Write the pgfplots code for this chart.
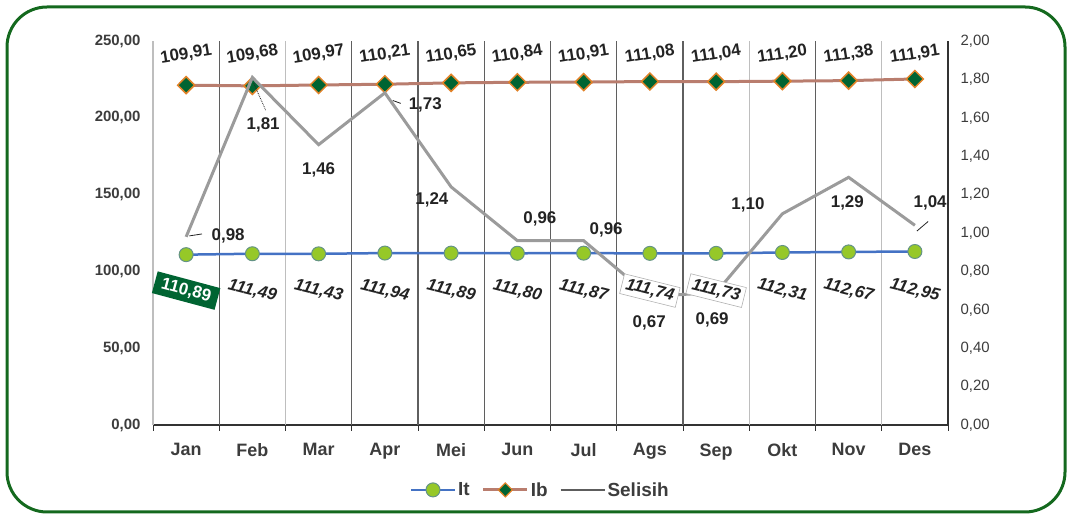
\documentclass[border=0pt]{standalone}
\usepackage{pgfplots}
\pgfplotsset{compat=1.18}
\usepackage{fontspec}
\setmainfont{Liberation Sans}
\definecolor{frame}{RGB}{20,105,30}
\definecolor{itline}{RGB}{68,114,196}
\definecolor{itmark}{RGB}{150,200,40}
\definecolor{ibline}{RGB}{185,125,110}
\definecolor{ibmark}{RGB}{0,100,50}
\definecolor{iborange}{RGB}{225,130,40}
\definecolor{sel}{RGB}{155,155,155}
\definecolor{txt}{RGB}{35,35,35}
\definecolor{labgray}{RGB}{60,60,60}
\definecolor{axisdark}{RGB}{50,50,50}
\definecolor{griddark}{RGB}{95,95,95}
\definecolor{gridlight}{RGB}{190,190,190}
\definecolor{boxgreen}{RGB}{0,100,50}
\pgfplotsset{
  base/.style={scale only axis, width=795bp, height=384bp, at={(153bp,90bp)}, anchor=south west,
    xmin=-0.5, xmax=11.5, clip=false},
  numfmt/.style={/pgf/number format/fixed, /pgf/number format/fixed zerofill,
    /pgf/number format/precision=2, /pgf/number format/use comma,
    /pgf/number format/1000 sep={}, /pgf/number format/assume math mode=true},
}
\tikzset{
  ibl/.style={rotate=9, font=\fontsize{17}{19}\selectfont\bfseries, text=txt, inner sep=0pt},
  itl/.style={rotate=-14, font=\fontsize{17}{19}\selectfont\bfseries\itshape, text=txt, inner sep=0pt},
  sl/.style={font=\fontsize{17}{19}\selectfont\bfseries, text=txt, inner sep=0pt},
}
\begin{document}
\begin{tikzpicture}[x=1bp,y=1bp]
\path[use as bounding box] (0,0) rectangle (1069,515);
\draw[frame, line width=3bp, rounded corners=40bp] (7,3) rectangle (1065,508);

% Axis 1: It (left scale)
\begin{axis}[base, ymin=0, ymax=250,
  axis x line*=bottom, axis y line*=left,
  y axis line style={draw=none},
  x axis line style={draw=axisdark, line width=1.5bp},
  xtick={0,...,11},
  xticklabels={Jan,Feb,Mar,Apr,Mei,Jun,Jul,Ags,Sep,Okt,Nov,Des},
  major tick length=0pt,
  minor xtick={-0.5,0.5,1.5,2.5,3.5,4.5,5.5,6.5,7.5,8.5,9.5,10.5,11.5},
  minor tick length=6bp, tick align=outside,
  minor x tick style={draw=axisdark, line width=1bp},
  xticklabel style={font=\fontsize{18}{20}\selectfont\bfseries, text=labgray, yshift=-15bp},
  ytick={0,50,100,150,200,250},
  scaled y ticks=false,
  yticklabel style={numfmt, font=\fontsize{15}{17}\selectfont\bfseries, text=labgray, xshift=-9bp},
  legend style={at={(0.487,-0.169)}, anchor=center, draw=none, fill=none,
    font=\fontsize{19}{21}\selectfont\bfseries, text=labgray,
    /tikz/every even column/.append style={column sep=10bp}},
  legend columns=3,
  legend image code/.code={\draw[mark repeat=2,mark phase=2,#1] plot coordinates {(0bp,0bp) (22bp,0bp) (44bp,0bp)};},
]
\draw[gridlight, line width=1.2bp] (axis cs:-0.5,0) -- (axis cs:-0.5,250);
\draw[griddark, line width=1.2bp] (axis cs:0.5,0) -- (axis cs:0.5,250);
\draw[gridlight, line width=1.2bp] (axis cs:1.5,0) -- (axis cs:1.5,250);
\draw[griddark, line width=1.2bp] (axis cs:2.5,0) -- (axis cs:2.5,250);
\draw[griddark, line width=1.2bp] (axis cs:3.5,0) -- (axis cs:3.5,250);
\draw[griddark, line width=1.2bp] (axis cs:4.5,0) -- (axis cs:4.5,250);
\draw[griddark, line width=1.2bp] (axis cs:5.5,0) -- (axis cs:5.5,250);
\draw[griddark, line width=1.2bp] (axis cs:6.5,0) -- (axis cs:6.5,250);
\draw[griddark, line width=1.2bp] (axis cs:7.5,0) -- (axis cs:7.5,250);
\draw[gridlight, line width=1.2bp] (axis cs:8.5,0) -- (axis cs:8.5,250);
\draw[griddark, line width=1.2bp] (axis cs:9.5,0) -- (axis cs:9.5,250);
\draw[gridlight, line width=1.2bp] (axis cs:10.5,0) -- (axis cs:10.5,250);
\addplot[itline, line width=2.5bp, mark=*, mark size=7bp,
  mark options={fill=itmark, draw=itline!60!itmark, line width=1bp}] coordinates {
  (0,110.89) (1,111.49) (2,111.43) (3,111.94) (4,111.89) (5,111.80)
  (6,111.87) (7,111.74) (8,111.73) (9,112.31) (10,112.67) (11,112.95)};
\addlegendentry{It}
\addlegendimage{ibline, line width=3bp, mark=diamond*, mark size=7bp,
  mark options={fill=ibmark, draw=iborange, line width=1.2bp, xscale=1.33}}
\addlegendentry{Ib}
\addlegendimage{sel!60!black, line width=2bp}
\addlegendentry{Selisih}
\end{axis}

% Axis 2: Ib (hidden scale)
\begin{axis}[base, ymin=0, ymax=124.2, hide axis]
\addplot[ibline, line width=3bp, mark=diamond*, mark size=8.5bp,
  mark options={fill=ibmark, draw=iborange, line width=1.5bp, xscale=1.33}] coordinates {
  (0,109.91) (1,109.68) (2,109.97) (3,110.21) (4,110.65) (5,110.84)
  (6,110.91) (7,111.08) (8,111.04) (9,111.20) (10,111.38) (11,111.91)};
\end{axis}

% Axis 3: Selisih (right scale)
\begin{axis}[base, ymin=0, ymax=2,
  axis x line=none, axis y line*=right,
  y axis line style={draw=axisdark, line width=1.5bp},
  ytick={0,0.2,0.4,0.6,0.8,1,1.2,1.4,1.6,1.8,2},
  major tick length=0pt, scaled y ticks=false,
  yticklabel style={numfmt, font=\fontsize{15}{17}\selectfont, text=labgray, xshift=9bp},
]
\addplot[sel, line width=3bp] coordinates {
  (0,0.98) (1,1.81) (2,1.46) (3,1.73) (4,1.24) (5,0.96)
  (6,0.96) (7,0.67) (8,0.69) (9,1.10) (10,1.29) (11,1.04)};
% Ib labels
\node[ibl] at (axis cs:0,1.93) {109,91};
\node[ibl] at (axis cs:1,1.93) {109,68};
\node[ibl] at (axis cs:2,1.93) {109,97};
\node[ibl] at (axis cs:3,1.93) {110,21};
\node[ibl] at (axis cs:4,1.93) {110,65};
\node[ibl] at (axis cs:5,1.93) {110,84};
\node[ibl] at (axis cs:6,1.93) {110,91};
\node[ibl] at (axis cs:7,1.93) {111,08};
\node[ibl] at (axis cs:8,1.93) {111,04};
\node[ibl] at (axis cs:9,1.93) {111,20};
\node[ibl] at (axis cs:10,1.93) {111,38};
\node[ibl] at (axis cs:11,1.93) {111,91};
% It labels
\node[rotate=-15, fill=boxgreen, text=white, font=\fontsize{17}{19}\selectfont\bfseries, inner xsep=7bp, inner ysep=4bp] at (axis cs:0,0.70) {110,89};
\node[itl] at (axis cs:1,0.70) {111,49};
\node[itl] at (axis cs:2,0.70) {111,43};
\node[itl] at (axis cs:3,0.70) {111,94};
\node[itl] at (axis cs:4,0.70) {111,89};
\node[itl] at (axis cs:5,0.70) {111,80};
\node[itl] at (axis cs:6,0.70) {111,87};
\node[itl, fill=white, draw=gray!60, line width=0.6bp, inner xsep=4bp, inner ysep=3bp] at (axis cs:7,0.70) {111,74};
\node[itl, fill=white, draw=gray!60, line width=0.6bp, inner xsep=4bp, inner ysep=3bp] at (axis cs:8,0.70) {111,73};
\node[itl] at (axis cs:9,0.70) {112,31};
\node[itl] at (axis cs:10,0.70) {112,67};
\node[itl] at (axis cs:11,0.70) {112,95};
% Selisih labels
\node[sl] at (axis cs:0.634,0.984) {0,98};
\node[sl] at (axis cs:1.162,1.5625) {1,81};
\node[sl] at (axis cs:2.0,1.328) {1,46};
\node[sl] at (axis cs:3.61,1.667) {1,73};
\node[sl] at (axis cs:3.71,1.172) {1,24};
\node[sl] at (axis cs:5.34,1.073) {0,96};
\node[sl] at (axis cs:6.34,1.016) {0,96};
\node[sl] at (axis cs:6.99,0.531) {0,67};
\node[sl] at (axis cs:7.94,0.547) {0,69};
\node[sl] at (axis cs:8.48,1.146) {1,10};
\node[sl] at (axis cs:9.98,1.156) {1,29};
\node[sl] at (axis cs:11.23,1.156) {1,04};
% leader lines
\draw[txt, line width=0.8bp] (axis cs:0.05,0.985) -- (axis cs:0.24,0.995);
\draw[txt, line width=0.8bp, densely dotted] (axis cs:1.02,1.78) -- (axis cs:1.2,1.64);
\draw[txt, line width=0.8bp] (axis cs:3.12,1.69) -- (axis cs:3.24,1.675);
\draw[txt, line width=0.8bp] (axis cs:11.03,1.01) -- (axis cs:11.2,1.06);
\end{axis}
\end{tikzpicture}
\end{document}
